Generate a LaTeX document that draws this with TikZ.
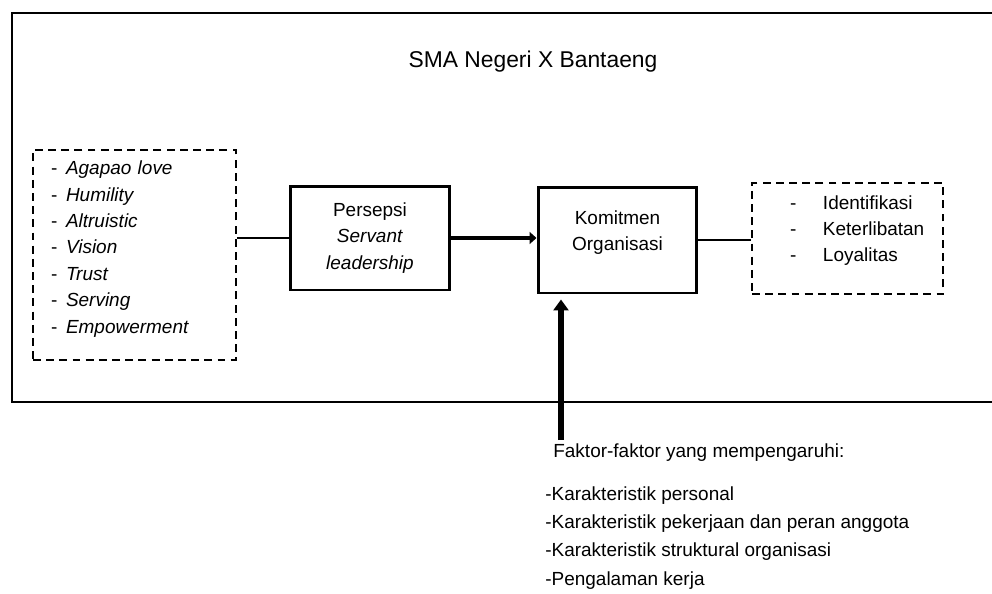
\documentclass[tikz,border=0pt]{standalone}
\usepackage{fontspec}
\setmainfont{Liberation Sans}
\usetikzlibrary{arrows.meta, positioning}
\newcommand\bodyfont{\fontsize{10.8}{15}\selectfont}
\newcommand\titlefont{\fontsize{13}{16}\selectfont}
\newcommand\dashitem[2]{\makebox[#1][l]{-}#2}

\begin{document}
\begin{tikzpicture}[x=0.02cm, y=-0.02cm,
    box/.style={draw, line width=1.7pt, minimum width=#1, minimum height=21mm, align=center, font=\bodyfont},
    listbox/.style={draw, dash pattern=on 4.5pt off 3pt, line width=0.8pt, align=left, font=\bodyfont},
    thin link/.style={line width=0.8pt},
    push/.style={-{Triangle[length=1.4mm, width=2.4mm]}, line width=2.6pt},
    lift/.style={-{Triangle[length=2.2mm, width=3mm]}, line width=3.4pt}
]
\clip (0,0) rectangle (992,593);
% outer frame, open to the right
\draw[line width=0.8pt] (12,13) rectangle (1010,402);
\node[font=\titlefont] (school) at (533, 62) {SMA Negeri X Bantaeng};

\node[listbox, minimum width=40.6mm, minimum height=42mm, inner xsep=3.6mm, text width=33.4mm, text depth=99pt] (traits) at (134.5, 255)
  {\dashitem{3mm}{\textit{Agapao love}}\\ \dashitem{3mm}{\textit{Humility}}\\ \dashitem{3mm}{\textit{Altruistic}}\\
   \dashitem{3mm}{\textit{Vision}}\\ \dashitem{3mm}{\textit{Trust}}\\ \dashitem{3mm}{\textit{Serving}}\\ \dashitem{3mm}{\textit{Empowerment}}};
\node[box=32mm, minimum height=20.8mm] (persepsi) at (370, 238) {Persepsi\\ \textit{Servant}\\ \textit{leadership}};
\node[box=31.8mm, minimum height=21.2mm, text depth=3.8mm] (komit) at (617.5, 240) {Komitmen\\Organisasi};
\node[listbox, minimum width=38.2mm, minimum height=22.2mm, inner xsep=7.6mm, text width=23mm, text depth=41.4pt] (goals) at (847.5, 238.5)
  {\dashitem{6.6mm}{Identifikasi}\\ \dashitem{6.6mm}{Keterlibatan}\\ \dashitem{6.6mm}{Loyalitas}};

\node[font=\bodyfont, anchor=west, inner sep=0pt] (factors) at (553, 453) {Faktor-faktor yang mempengaruhi:};
\node[font=\bodyfont, anchor=west, align=left, inner sep=0pt] (factorlist) at (545, 538)
  {-Karakteristik personal\\[1pt] -Karakteristik pekerjaan dan peran anggota\\[1pt]
   -Karakteristik struktural organisasi\\[1pt] -Pengalaman kerja};
\coordinate (stem) at (561, 440);

\draw[thin link] (persepsi.west) -- (persepsi.west -| traits.east);
\draw[push] (persepsi.east) -- (persepsi.east -| komit.west);
\draw[thin link] (komit.east) -- (komit.east -| goals.west);
\draw[lift, shorten >=1mm] (stem) -- (stem |- komit.south);
\end{tikzpicture}
\end{document}
